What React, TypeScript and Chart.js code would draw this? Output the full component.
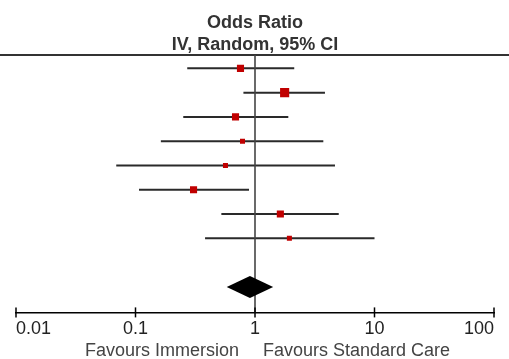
import { useEffect, useRef } from "react";
import { Chart, registerables } from "chart.js";

Chart.register(...registerables);

// ---- data ----
const studyRows = [0, 1, 2, 3, 4, 5, 6, 7];
const oddsRatio = [0.756, 1.77, 0.687, 0.786, 0.566, 0.306, 1.63, 1.94];
const ciLower = [0.271, 0.8, 0.251, 0.163, 0.069, 0.107, 0.523, 0.382];
const ciUpper = [2.13, 3.85, 1.9, 3.73, 4.67, 0.891, 5.02, 10.0];
const weights = [14, 23, 14, 7, 7, 14, 14, 7];
const pooledRow = 9;
const pooledOR = 0.907;
const pooledLower = 0.58;
const pooledUpper = 1.42;
const xTicks = [0.01, 0.1, 1, 10, 100];
const tickLabels = ["0.01", "0.1", "1", "10", "100"];
const titleLines = ["Odds Ratio", "IV, Random, 95% CI"];
const favoursLeft = "Favours Immersion";
const favoursRight = "Favours Standard Care";

const FONT = "'Liberation Sans', Arial, sans-serif";

const forestPlugin = {
  id: "forest",
  beforeDatasetsDraw(chart: any) {
    const { ctx, chartArea, scales } = chart;
    const x = scales.x;
    const y = scales.y;
    ctx.save();
    // top rule
    ctx.strokeStyle = "#333";
    ctx.lineWidth = 2;
    ctx.beginPath();
    ctx.moveTo(0, chartArea.top);
    ctx.lineTo(chart.width, chartArea.top);
    ctx.stroke();
    // CI lines
    ctx.strokeStyle = "#2a2a2a";
    ctx.lineWidth = 2;
    studyRows.forEach((r, i) => {
      const py = y.getPixelForValue(r);
      ctx.beginPath();
      ctx.moveTo(x.getPixelForValue(ciLower[i]), py);
      ctx.lineTo(x.getPixelForValue(ciUpper[i]), py);
      ctx.stroke();
    });
    // line of no effect
    const x1 = x.getPixelForValue(1);
    ctx.strokeStyle = "#444";
    ctx.lineWidth = 1.6;
    ctx.beginPath();
    ctx.moveTo(x1, chartArea.top);
    ctx.lineTo(x1, chartArea.bottom);
    ctx.stroke();
    ctx.restore();
  },
  afterDatasetsDraw(chart: any) {
    const { ctx, chartArea, scales } = chart;
    const x = scales.x;
    const y = scales.y;
    ctx.save();
    // pooled diamond
    const py = y.getPixelForValue(pooledRow);
    const h = 11;
    ctx.fillStyle = "#000";
    ctx.beginPath();
    ctx.moveTo(x.getPixelForValue(pooledLower), py);
    ctx.lineTo(x.getPixelForValue(pooledOR), py - h);
    ctx.lineTo(x.getPixelForValue(pooledUpper), py);
    ctx.lineTo(x.getPixelForValue(pooledOR), py + h);
    ctx.closePath();
    ctx.fill();
    // axis tick marks
    ctx.strokeStyle = "#000";
    ctx.lineWidth = 1.5;
    xTicks.forEach((v) => {
      const px = x.getPixelForValue(v);
      ctx.beginPath();
      ctx.moveTo(px, chartArea.bottom - 5);
      ctx.lineTo(px, chartArea.bottom + 5);
      ctx.stroke();
    });
    // favours labels
    const x1 = x.getPixelForValue(1);
    ctx.font = `18px ${FONT}`;
    ctx.fillStyle = "#444";
    ctx.textBaseline = "alphabetic";
    ctx.textAlign = "right";
    ctx.fillText(favoursLeft, x1 - 16, 356);
    ctx.textAlign = "left";
    ctx.fillText(favoursRight, x1 + 8, 356);
    ctx.restore();
  },
};

export default function App() {
  const canvasRef = useRef<HTMLCanvasElement | null>(null);

  useEffect(() => {
    if (!canvasRef.current) return;
    const chart = new Chart(canvasRef.current, {
      type: "scatter",
      data: {
        datasets: [
          {
            label: "Odds ratio",
            data: studyRows.map((r, i) => ({ x: oddsRatio[i], y: r })),
            pointStyle: "rect",
            pointRadius: weights.map((w) => (1.9 * Math.sqrt(w)) / (2 * Math.SQRT1_2)),
            pointHoverRadius: weights.map((w) => (1.9 * Math.sqrt(w)) / (2 * Math.SQRT1_2)),
            pointBackgroundColor: "#c00000",
            pointBorderWidth: 0,
            borderWidth: 0,
          },
        ],
      },
      options: {
        animation: false,
        responsive: true,
        maintainAspectRatio: false,
        layout: { padding: { left: 16, right: 15, top: 0, bottom: 13 } },
        plugins: {
          legend: { display: false },
          tooltip: { enabled: false },
          title: {
            display: true,
            text: titleLines,
            color: "#333",
            font: { family: FONT, size: 18, weight: "bold", lineHeight: 22 / 18 },
            padding: { top: 12, bottom: -1 },
          },
        },
        scales: {
          x: {
            type: "logarithmic",
            min: 0.01,
            max: 100,
            afterBuildTicks: (scale: any) => {
              scale.ticks = xTicks.map((v) => ({ value: v }));
            },
            afterFit: (scale: any) => {
              scale.paddingLeft = 0;
              scale.paddingRight = 0;
            },
            grid: { display: false, drawTicks: false },
            border: { display: true, color: "#000", width: 1.5 },
            ticks: {
              align: "inner",
              padding: 6,
              color: "#222",
              font: { family: FONT, size: 18 },
              autoSkip: false,
              maxRotation: 0,
              callback: (_v: any, i: number) => tickLabels[i],
            },
          },
          y: {
            type: "linear",
            reverse: true,
            min: -0.55,
            max: 10.05,
            display: false,
          },
        },
      } as any,
      plugins: [forestPlugin],
    });
    return () => chart.destroy();
  }, []);

  return (
    <div style={{ position: "fixed", left: 0, top: 0, width: 509, height: 359, background: "#fff" }}>
      <canvas ref={canvasRef} />
    </div>
  );
}
